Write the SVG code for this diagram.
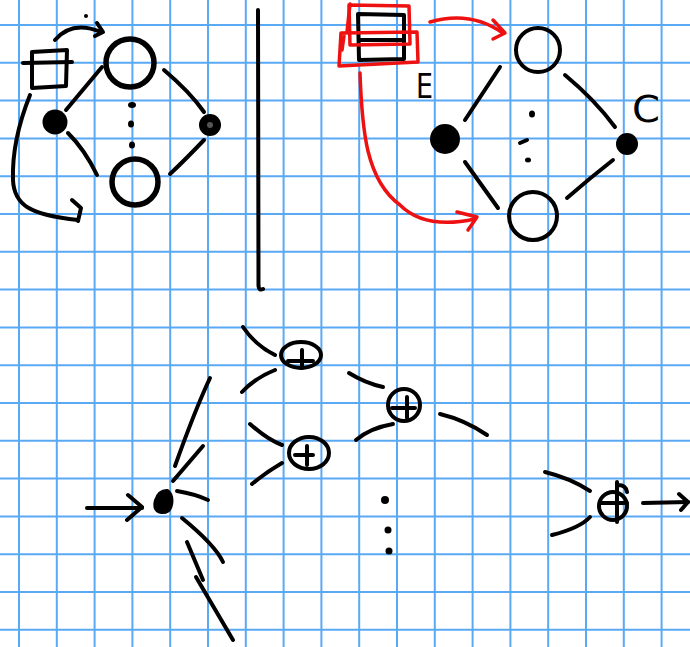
<svg xmlns="http://www.w3.org/2000/svg" width="690" height="647" viewBox="0 0 690 647">
  <defs>
    <style>
      .grid line { stroke: #5aa9f5; stroke-width: 2; }
      .ink { fill: none; stroke: #000; stroke-width: 4; stroke-linecap: round; stroke-linejoin: round; }
      .thick { stroke-width: 5.5; }
      .red { fill: none; stroke: #ee1111; stroke-width: 3.5; stroke-linecap: round; stroke-linejoin: round; }
      .dot { fill: #000; }
      .hand { font-family: "DejaVu Sans", "Liberation Sans", sans-serif; fill: #000; }
    </style>
  </defs>

  <rect width="690" height="647" fill="#fff"/>

  <!-- graph paper -->
  <g class="grid">
    <line x1="19" y1="0" x2="19" y2="647"/>
    <line x1="56.8" y1="0" x2="56.8" y2="647"/>
    <line x1="94.6" y1="0" x2="94.6" y2="647"/>
    <line x1="132.4" y1="0" x2="132.4" y2="647"/>
    <line x1="170.2" y1="0" x2="170.2" y2="647"/>
    <line x1="208" y1="0" x2="208" y2="647"/>
    <line x1="245.8" y1="0" x2="245.8" y2="647"/>
    <line x1="283.6" y1="0" x2="283.6" y2="647"/>
    <line x1="321.4" y1="0" x2="321.4" y2="647"/>
    <line x1="359.2" y1="0" x2="359.2" y2="647"/>
    <line x1="397" y1="0" x2="397" y2="647"/>
    <line x1="434.8" y1="0" x2="434.8" y2="647"/>
    <line x1="472.6" y1="0" x2="472.6" y2="647"/>
    <line x1="510.4" y1="0" x2="510.4" y2="647"/>
    <line x1="548.2" y1="0" x2="548.2" y2="647"/>
    <line x1="586" y1="0" x2="586" y2="647"/>
    <line x1="623.8" y1="0" x2="623.8" y2="647"/>
    <line x1="661.6" y1="0" x2="661.6" y2="647"/>
    <line x1="0" y1="25" x2="690" y2="25"/>
    <line x1="0" y1="62.8" x2="690" y2="62.8"/>
    <line x1="0" y1="100.6" x2="690" y2="100.6"/>
    <line x1="0" y1="138.4" x2="690" y2="138.4"/>
    <line x1="0" y1="176.2" x2="690" y2="176.2"/>
    <line x1="0" y1="214" x2="690" y2="214"/>
    <line x1="0" y1="251.8" x2="690" y2="251.8"/>
    <line x1="0" y1="289.6" x2="690" y2="289.6"/>
    <line x1="0" y1="327.4" x2="690" y2="327.4"/>
    <line x1="0" y1="365.2" x2="690" y2="365.2"/>
    <line x1="0" y1="403" x2="690" y2="403"/>
    <line x1="0" y1="440.8" x2="690" y2="440.8"/>
    <line x1="0" y1="478.6" x2="690" y2="478.6"/>
    <line x1="0" y1="516.4" x2="690" y2="516.4"/>
    <line x1="0" y1="554.2" x2="690" y2="554.2"/>
    <line x1="0" y1="592" x2="690" y2="592"/>
    <line x1="0" y1="629.8" x2="690" y2="629.8"/>
  </g>

  <!-- divider -->
  <path class="ink" d="M258,10 L258.5,286 Q259,291 263,289"/>

  <!-- ===== left sketch ===== -->
  <g id="tl-box">
    <path class="ink" d="M32,52 L67,50 L66,86 L32,88 Z"/>
    <path class="ink" d="M23,63 L72,62"/>
  </g>
  <g id="tl-top">
    <circle class="ink thick" cx="130" cy="63" r="24"/>
  </g>
  <g id="tl-left">
    <circle class="dot" cx="55" cy="122" r="12.5"/>
  </g>
  <g id="tl-right">
    <circle class="dot" cx="210" cy="125" r="11"/>
    <circle cx="210" cy="125" r="3" fill="#555"/>
  </g>
  <g id="tl-bottom">
    <circle class="ink thick" cx="135" cy="182" r="23"/>
  </g>
  <g id="tl-dots">
    <ellipse class="dot" cx="132" cy="105" rx="4" ry="3"/>
    <ellipse class="dot" cx="131" cy="124" rx="3" ry="3.5"/>
    <ellipse class="dot" cx="132" cy="145" rx="3" ry="3.5"/>
  </g>
  <g id="tl-edges">
    <path class="ink" d="M102,67 L66,110"/>
    <path class="ink" d="M164,70 Q190,92 204,112"/>
    <path class="ink" d="M68,133 Q85,150 97,175"/>
    <path class="ink" d="M204,140 Q185,160 170,174"/>
    <path class="ink" d="M55,40 Q72,20 101,32"/>
    <path class="ink" d="M97,23 L103,32 L95,36"/>
    <path class="ink" d="M30,95 C20,120 12,150 13,180 C14,205 30,215 78,220"/>
    <path class="ink" d="M72,200 L81,208 L78,221"/>
  </g>
  <circle class="dot" cx="86" cy="16" r="2"/>

  <!-- ===== right sketch ===== -->
  <g id="tr-box">
    <path class="ink" d="M358,14 L404,15 L404,59 L359,60 Z"/>
    <path class="ink" d="M360,40 L404,40" stroke-width="3"/>
    <path class="red" d="M349,5 L409,6 L410,44 L350,45 Z"/>
    <path class="red" d="M341,33 L417,32 L418,62 L339,66 Z"/>
    <path class="red" d="M350,4 L347,32 M344,36 L342,50"/>
  </g>
  <g id="tr-top">
    <circle class="ink" cx="538" cy="50" r="22" stroke-width="3.5"/>
  </g>
  <g id="tr-left">
    <circle class="dot" cx="445" cy="139" r="15"/>
  </g>
  <g id="tr-right">
    <circle class="dot" cx="627" cy="144" r="11"/>
  </g>
  <g id="tr-bottom">
    <circle class="ink" cx="533" cy="216" r="24" stroke-width="3.5"/>
  </g>
  <g id="tr-dots">
    <ellipse class="dot" cx="532" cy="114" rx="3" ry="3.5"/>
    <path class="ink" d="M520,143 L527,140" stroke-width="3.5"/>
    <ellipse class="dot" cx="528" cy="160" rx="3" ry="2.5"/>
  </g>
  <text class="hand" x="416" y="98" font-size="34" textLength="17" lengthAdjust="spacingAndGlyphs">E</text>
  <text class="hand" x="632" y="122" font-size="38" textLength="28" lengthAdjust="spacingAndGlyphs">C</text>
  <g id="tr-edges">
    <path class="ink" d="M500,67 L465,120" stroke-width="3.5"/>
    <path class="ink" d="M565,75 Q595,100 615,127" stroke-width="3.5"/>
    <path class="ink" d="M465,162 L498,208" stroke-width="3.5"/>
    <path class="ink" d="M613,160 Q590,178 567,198" stroke-width="3.5"/>
    <path class="red" d="M430,22 Q470,10 503,33"/>
    <path class="red" d="M493,20 L505,33 L493,39"/>
    <path class="red" d="M360,73 C362,130 366,180 400,205 Q425,230 475,219"/>
    <path class="red" d="M457,212 L477,217 L468,230"/>
  </g>

  <!-- ===== bottom sketch ===== -->
  <g id="input">
    <path class="dot" d="M154,500 Q158,488 168,489 Q175,494 173,505 Q171,515 161,514 Q151,512 154,500 Z"/>
  </g>
  <g id="sum-1">
    <ellipse class="ink" cx="301" cy="355" rx="20" ry="13" stroke-width="3.5"/>
    <path class="ink" d="M288,361 L313,361 M302,350 L302,368" stroke-width="3.5"/>
  </g>
  <g id="sum-2">
    <circle class="ink" cx="404" cy="405" r="16" stroke-width="3.5"/>
    <path class="ink" d="M392,408 L415,408 M407,397 L407,418" stroke-width="3.5"/>
  </g>
  <g id="sum-3">
    <ellipse class="ink" cx="309" cy="453" rx="20" ry="16" stroke-width="3.5"/>
    <path class="ink" d="M295,455 L313,455 M307,446 L307,465" stroke-width="3.5"/>
  </g>
  <g id="sum-4">
    <circle class="ink" cx="613" cy="506" r="14" stroke-width="3.5"/>
    <path class="ink" d="M601,503 L627,503 M617,482 L617,522 M618,485 Q626,485 627,492" stroke-width="3.5"/>
  </g>
  <g id="dots">
    <circle class="dot" cx="385" cy="500" r="4"/>
    <circle class="dot" cx="388" cy="530" r="3.5"/>
    <circle class="dot" cx="389" cy="551" r="3.5"/>
  </g>
  <g id="bottom-edges">
    <path class="ink" d="M87,508 L142,508"/>
    <path class="ink" d="M128,495 L142,507 L127,520"/>
    <path class="ink" d="M210,378 Q195,410 175,466"/>
    <path class="ink" d="M203,446 L173,481"/>
    <path class="ink" d="M177,491 Q195,494 208,500"/>
    <path class="ink" d="M182,518 Q215,545 223,562"/>
    <path class="ink" d="M187,542 L203,580"/>
    <path class="ink" d="M196,577 L233,640"/>
    <path class="ink" d="M243,327 Q255,345 275,355"/>
    <path class="ink" d="M275,370 Q255,378 242,392"/>
    <path class="ink" d="M349,373 Q365,383 383,387"/>
    <path class="ink" d="M393,424 Q370,428 356,440"/>
    <path class="ink" d="M250,424 Q268,440 282,445"/>
    <path class="ink" d="M282,463 Q265,473 252,484"/>
    <path class="ink" d="M440,414 Q465,420 487,435"/>
    <path class="ink" d="M545,472 Q570,478 590,491"/>
    <path class="ink" d="M590,517 Q580,528 552,535"/>
    <path class="ink" d="M643,503 L688,502"/>
    <path class="ink" d="M679,494 L688,502 L681,510"/>
  </g>
</svg>
